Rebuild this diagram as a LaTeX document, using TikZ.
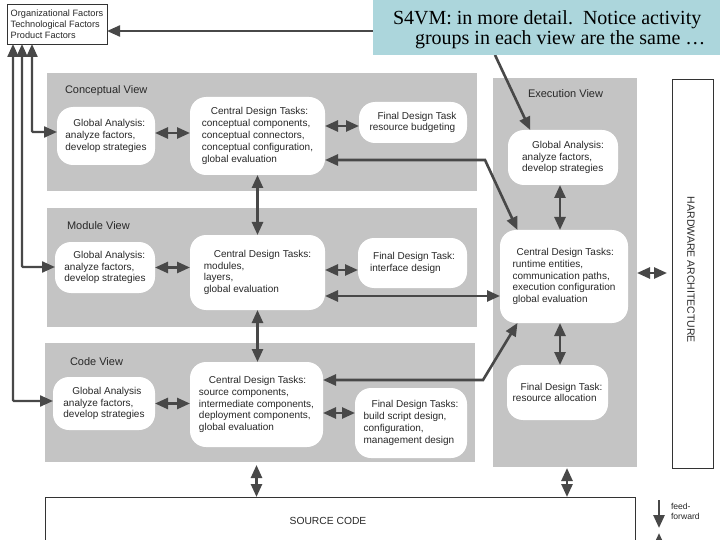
\documentclass[tikz,border=0pt]{standalone}
\usepackage{fontspec}
\setmainfont{Liberation Sans}
\newfontfamily\tmsfont{Liberation Serif}
\usetikzlibrary{arrows.meta,calc}
\definecolor{panelgray}{RGB}{196,196,196}
\definecolor{arrowc}{RGB}{72,72,72}
\definecolor{titlecyan}{RGB}{172,214,220}
\definecolor{txtc}{RGB}{40,40,40}
\tikzset{
  panel/.style={fill=panelgray, draw=none},
  wbox/.style={fill=white, draw=none, rounded corners=16pt, align=left, text=txtc,
    font=\fontsize{10}{11.8}\selectfont},
  ptitle/.style={text=txtc, font=\fontsize{11}{13}\selectfont},
  linebox/.style={draw=black!80, line width=0.7pt, fill=white},
  arr/.style={draw=arrowc, line width=2.6pt, -{Triangle[length=13pt,width=11pt]}},
  darr/.style={draw=arrowc, line width=2.6pt, {Triangle[length=13pt,width=11pt]}-{Triangle[length=13pt,width=11pt]}},
}
\begin{document}
\begin{tikzpicture}[x=1pt,y=-1pt, every node/.append style={inner sep=0pt, outer sep=0pt}]
\useasboundingbox (0,0) rectangle (720,540);
\clip (0,0) rectangle (720,540);
\fill[white] (0,0) rectangle (720,540);

% panels
\node[panel, minimum width=430pt, minimum height=118pt] (pconc) at (262,132) {};
\node[panel, minimum width=430pt, minimum height=119pt] (pmod) at (262,267.5) {};
\node[panel, minimum width=430pt, minimum height=119pt] (pcode) at (260,402.5) {};
\node[panel, minimum width=144pt, minimum height=389pt] (pexec) at (565,272.5) {};

% other boxes
\node[linebox, minimum width=41pt, minimum height=389pt] (hw) at (692.5,273.5) {};
\node[rotate=-90, text=txtc, font=\fontsize{10.5}{12}\selectfont] (hwt) at (691,270) {HARDWARE ARCHITECTURE};
\node[linebox, minimum width=590pt, minimum height=73pt] (src) at (340,533.5) {};
\node[text=txtc, font=\fontsize{10.3}{12}\selectfont] (srct) at (328,521) {SOURCE CODE};
\node[linebox, minimum width=100pt, minimum height=40pt, align=left, text=txtc,
  font=\fontsize{9.2}{11}\selectfont] (fac) at (57,24)
  {Organizational Factors\\Technological Factors\\Product Factors};

% panel titles
\node[ptitle, anchor=base west] (tconc) at (65,93.5) {Conceptual View};
\node[ptitle, anchor=base west] (tmod) at (67,229.5) {Module View};
\node[ptitle, anchor=base west] (tcode) at (70,365) {Code View};
\node[ptitle, anchor=base west] (texec) at (528,98) {Execution View};

% activity boxes
\node[wbox, minimum width=98pt, minimum height=58pt] (ga1) at (106,136)
  {\hspace*{8pt}Global Analysis:\\analyze factors,\\develop strategies};
\node[wbox, minimum width=135pt, minimum height=78pt] (cdt1) at (257.5,136)
  {\hspace*{9pt}Central Design Tasks:\\conceptual components,\\conceptual connectors,\\conceptual configuration,\\global evaluation};
\node[wbox, minimum width=108pt, minimum height=41pt] (fdt1) at (413,122.5)
  {\hspace*{8pt}Final Design Task\\resource budgeting};

\node[wbox, minimum width=100pt, minimum height=51pt] (ga2) at (105,267.5)
  {\hspace*{9pt}Global Analysis:\\analyze factors,\\develop strategies};
\node[wbox, minimum width=135pt, minimum height=75pt] (cdt2) at (257.5,272.5)
  {\hspace*{10pt}Central Design Tasks:\\modules,\\layers,\\global evaluation};
\node[wbox, minimum width=109pt, minimum height=50pt] (fdt2) at (412.5,263)
  {\hspace*{3pt}Final Design Task:\\interface design};

\node[wbox, minimum width=102pt, minimum height=53pt] (ga3) at (104,403.5)
  {\hspace*{9pt}Global Analysis\\analyze factors,\\develop strategies};
\node[wbox, minimum width=133pt, minimum height=85pt] (cdt3) at (256.5,404.5)
  {\hspace*{10pt}Central Design Tasks:\\source components,\\intermediate components,\\deployment components,\\global evaluation};
\node[wbox, minimum width=112pt, minimum height=70pt] (fdt3) at (411,423)
  {\hspace*{8pt}Final Design Tasks:\\build script design,\\configuration,\\management design};

\node[wbox, minimum width=110pt, minimum height=55pt] (ga4) at (563,157.5)
  {\hspace*{10pt}Global Analysis:\\analyze factors,\\develop strategies};
\node[wbox, minimum width=128pt, minimum height=93pt] (cdt4) at (564,276.5)
  {\hspace*{4pt}Central Design Tasks:\\runtime entities,\\communication paths,\\execution configuration\\global evaluation};
\node[wbox, minimum width=101pt, minimum height=55pt] (fdt4) at (557.5,392.5)
  {\hspace*{8pt}Final Design Task:\\resource allocation};

% helper coordinates
\coordinate (l1) at (32,132);
\coordinate (l2) at (22,267);
\coordinate (l3) at (13,401);
\coordinate (b1) at (485,160);
\coordinate (b2) at (400,296);
\coordinate (b3) at (483,380);
\coordinate (t1) at (495,55);
\coordinate (ff1) at (659,500);
\coordinate (ff2) at (659,528);
\coordinate (ff3) at (659,560);
\coordinate (ff4) at (659,533);

% factor lines
\draw[darr, line width=2.2pt, rounded corners=1pt] (fac.south -| l1) -- (l1) -- (l1 -| ga1.west);
\draw[darr, line width=2.2pt, rounded corners=1pt] (fac.south -| l2) -- (l2) -- (l2 -| ga2.west);
\draw[darr, line width=2.2pt, rounded corners=1pt] (fac.south -| l3) -- (l3) -- (l3 -| ga3.west);

% horizontal arrows within rows
\draw[darr] ($(ga1.east)+(0,-3)$) -- ($(ga1.east -| cdt1.west)+(0,-3)$);
\draw[darr] ($(cdt1.east)+(0,-10)$) -- ($(cdt1.east -| fdt1.west)+(0,-10)$);
\draw[darr] (ga2.east) -- (ga2.east -| cdt2.west);
\draw[darr] ($(cdt2.east)+(0,-2.5)$) -- ($(cdt2.east -| fdt2.west)+(0,-2.5)$);
\draw[darr] (ga3.east) -- (ga3.east -| cdt3.west);
\draw[darr] ($(cdt3.east)+(0,8.5)$) -- ($(cdt3.east -| fdt3.west)+(0,8.5)$);

% vertical arrows
\draw[darr] (cdt1.south) -- (cdt1.south |- cdt2.north);
\draw[darr] (cdt2.south) -- (cdt2.south |- cdt3.north);
\draw[darr] ($(cdt3.south |- pcode.south)+(0,3)$) -- (cdt3.south |- src.north);
\draw[darr] ($(ga4.south)+(-3,0)$) -- ($(ga4.south |- cdt4.north)+(-3,0)$);
\draw[darr] ($(cdt4.south)+(-4,0)$) -- ($(cdt4.south |- fdt4.north)+(-4,0)$);
\draw[darr] ($(pexec.south)+(2,1)$) -- ($(pexec.south |- src.north)+(2,0)$);

% hardware arrow
\draw[darr] ($(cdt4.center -| pexec.east)+(0,-3.5)$) -- ($(cdt4.center -| hw.west)+(-5,-3.5)$);

% cross arrows
\draw[darr] (b1 -| cdt1.east) -- (b1) -- (cdt4.135);
\draw[darr] (b2 -| cdt2.east) -- (b2 -| cdt4.west);
\draw[darr] (b3 -| cdt3.east) -- (b3) -- (cdt4.225);

% feedback to factors and title pointer
\draw[arr, line width=2.2pt] ($(fac.east -| pexec.west)+(0,7)$) -- ($(fac.east)+(0,7)$);
\draw[arr] (t1) -- (ga4.140);

% legend
\draw[arr] (ff1) -- (ff2);
\draw[arr] (ff3) -- (ff4);
\node[anchor=north west, align=left, text=txtc, font=\fontsize{8.6}{10}\selectfont] (fft) at (671,503) {feed-\\forward};

% title callout
\node[fill=titlecyan, minimum width=352pt, minimum height=60pt] (ttl) at (549,25) {};
\node[anchor=base west, font=\tmsfont\fontsize{20}{22}\selectfont] (ttl1) at (393,25) {S4VM: in more detail.\ \ Notice activity};
\node[anchor=base west, font=\tmsfont\fontsize{20}{22}\selectfont] (ttl2) at (415,45) {groups in each view are the same \dots};
\end{tikzpicture}
\end{document}
